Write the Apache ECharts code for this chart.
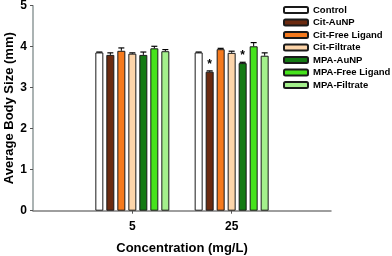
<!DOCTYPE html>
<html><head><meta charset="utf-8">
<script src="https://cdn.jsdelivr.net/npm/echarts@6/dist/echarts.min.js"></script>
<style>html,body{margin:0;padding:0;background:#fff}#c{width:392px;height:256px}</style>
</head><body><div id="c"></div>
<script>
var categories = ['', '5', '25', ''];
var seriesNames = ['Control', 'Cit-AuNP', 'Cit-Free Ligand', 'Cit-Filtrate', 'MPA-AuNP', 'MPA-Free Ligand', 'MPA-Filtrate'];
var control      = [null, 3.86, 3.86, null];
var citAuNP      = [null, 3.80, 3.39, null];
var citFree      = [null, 3.90, 3.94, null];
var citFiltrate  = [null, 3.83, 3.85, null];
var mpaAuNP      = [null, 3.80, 3.60, null];
var mpaFree      = [null, 3.96, 4.01, null];
var mpaFiltrate  = [null, 3.89, 3.78, null];
var errControl     = [0, 0.01, 0.01, 0];
var errCitAuNP     = [0, 0.05, 0.02, 0];
var errCitFree     = [0, 0.07, 0.02, 0];
var errCitFiltrate = [0, 0.02, 0.04, 0];
var errMpaAuNP     = [0, 0.07, 0.02, 0];
var errMpaFree     = [0, 0.05, 0.09, 0];
var errMpaFiltrate = [0, 0.04, 0.07, 0];
var signifCitAuNP  = ['', '', '*', ''];
var signifMpaAuNP  = ['', '', '*', ''];
var yTicks = [0, 1, 2, 3, 4, 5];

var values = [control, citAuNP, citFree, citFiltrate, mpaAuNP, mpaFree, mpaFiltrate];
var errors = [errControl, errCitAuNP, errCitFree, errCitFiltrate, errMpaAuNP, errMpaFree, errMpaFiltrate];
var signif = [null, signifCitAuNP, null, null, signifMpaAuNP, null, null];
var colors = ['#ffffff', '#6b2a10', '#f57a1e', '#fdd5aa', '#137a13', '#46e31c', '#a4f08c'];

var BW = 8, GAP = 3, PITCH = BW + GAP;
var series = [];
seriesNames.forEach(function (name, i) {
  series.push({
    name: name, type: 'bar', barWidth: BW, barGap: (GAP / BW * 100) + '%',
    itemStyle: { color: colors[i], borderColor: '#1a1a1a', borderWidth: 1 },
    data: values[i].map(function (v, j) {
      var d = { value: v };
      if (signif[i] && signif[i][j]) {
        d.label = { show: true, position: 'top', formatter: signif[i][j], distance: 1,
          fontSize: 12, fontWeight: 'bold', color: '#000', fontFamily: 'Liberation Sans' };
      }
      return d;
    })
  });
});
seriesNames.forEach(function (name, i) {
  series.push({
    type: 'custom', silent: true, z: 3,
    data: values[i].map(function (v, j) { return v == null ? null : [j, v, v + errors[i][j]]; }).filter(function (d) { return d; }),
    renderItem: function (params, api) {
      var off = (i - 3) * PITCH;
      var p0 = api.coord([api.value(0), api.value(1)]);
      var p1 = api.coord([api.value(0), api.value(2)]);
      var x = p0[0] + off;
      return { type: 'group', children: [
        { type: 'line', shape: { x1: x, y1: p0[1], x2: x, y2: p1[1] }, style: { stroke: '#000', lineWidth: 1 } },
        { type: 'line', shape: { x1: x - 3, y1: p1[1], x2: x + 3, y2: p1[1] }, style: { stroke: '#000', lineWidth: 1.2 } }
      ] };
    }
  });
});

var chart = echarts.init(document.getElementById('c'));
chart.setOption({
  animation: false,
  textStyle: { fontFamily: 'Liberation Sans' },
  legend: {
    orient: 'vertical', left: 283, top: 4, padding: 0, itemWidth: 24, itemHeight: 6, itemGap: 0.5,
    data: seriesNames,
    textStyle: { fontSize: 9.5, fontWeight: 'bold', color: '#000', lineHeight: 12, fontFamily: 'Liberation Sans' }
  },
  grid: { left: 33, right: 61, top: 5.7, bottom: 45.3, containLabel: false, outerBoundsMode: 'none' },
  xAxis: {
    type: 'category', data: categories, boundaryGap: false,
    name: 'Concentration (mg/L)', nameLocation: 'middle', nameGap: 31, nameMoveOverlap: false,
    nameTextStyle: { fontSize: 13, fontWeight: 'bold', color: '#000' },
    axisLine: { lineStyle: { color: '#7f7f7f', width: 1.5 } },
    axisTick: { length: 3, inside: false, lineStyle: { color: '#555' }, interval: function (idx) { return idx === 1 || idx === 2; } },
    axisLabel: { fontSize: 12, fontWeight: 'bold', color: '#000', margin: 10, interval: 0 },
    splitLine: { show: false }
  },
  yAxis: {
    type: 'value', min: yTicks[0], max: yTicks[yTicks.length - 1], interval: 1,
    name: 'Average Body Size (mm)', nameLocation: 'middle', nameGap: 17, nameMoveOverlap: false,
    nameTextStyle: { fontSize: 13, fontWeight: 'bold', color: '#000' },
    axisLine: { show: true, lineStyle: { color: '#8f9a9a', width: 1.5 } },
    axisTick: { show: true, length: 3, lineStyle: { color: '#555' } },
    axisLabel: { fontSize: 12, fontWeight: 'bold', color: '#000', margin: 6 },
    splitLine: { show: false }
  },
  series: series
});
</script></body></html>
